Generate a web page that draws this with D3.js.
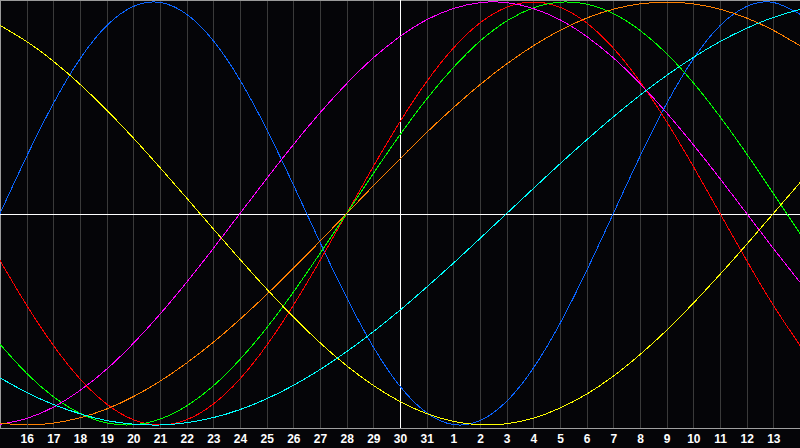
<!DOCTYPE html>
<html>
<head>
<meta charset="utf-8">
<script src="https://cdn.jsdelivr.net/npm/d3@7/dist/d3.min.js"></script>
<style>
  html, body { margin: 0; padding: 0; background: #050508; }
  svg { display: block; }
</style>
</head>
<body>
<svg id="chart" width="800" height="448"></svg>
<script>
// Days shown on the chart: index 0 = the 15th (left edge) ... index 30 = the 14th (right edge)
const days = [15,16,17,18,19,20,21,22,23,24,25,26,27,28,29,30,31,1,2,3,4,5,6,7,8,9,10,11,12,13,14];
// Tick labels (indices 1..29)
const tickLabels = ["16","17","18","19","20","21","22","23","24","25","26","27","28","29","30","31",
                    "1","2","3","4","5","6","7","8","9","10","11","12","13"];
const todayIndex = 15; // the 30th

// Cycle values per day (-1 .. 1)
const blue = [0,0.270,0.520,0.731,0.888,0.979,0.998,0.942,0.817,0.631,0.398,0.136,-0.136,-0.398,-0.631,-0.817,
              -0.942,-0.998,-0.979,-0.888,-0.731,-0.520,-0.270,0,0.270,0.520,0.731,0.888,0.979,0.998,0.942];
const red = [-0.2225,-0.434,-0.6235,-0.782,-0.901,-0.975,-1,-0.975,-0.901,-0.782,-0.6235,-0.434,-0.2225,0,
             0.2225,0.434,0.6235,0.782,0.901,0.975,1,0.975,0.901,0.782,0.6235,0.434,0.2225,0,-0.2225,-0.434,-0.6235];
const green = [-0.618,-0.756,-0.866,-0.945,-0.990,-0.999,-0.972,-0.910,-0.815,-0.690,-0.541,-0.372,-0.189,0,
               0.189,0.372,0.541,0.690,0.815,0.910,0.972,0.999,0.990,0.945,0.866,0.756,0.618,0.458,0.282,0.095,-0.095];
const magenta = [-0.997,-0.969,-0.916,-0.837,-0.736,-0.614,-0.476,-0.325,-0.165,0,0.165,0.325,0.476,0.614,0.736,
                 0.837,0.916,0.969,0.997,0.997,0.969,0.916,0.837,0.736,0.614,0.476,0.325,0.165,0,-0.165,-0.325];
const yellow = [0.889,0.813,0.720,0.611,0.489,0.357,0.217,0.073,-0.073,-0.217,-0.357,-0.489,-0.611,-0.720,-0.813,
                -0.889,-0.946,-0.983,-0.999,-0.994,-0.968,-0.920,-0.854,-0.769,-0.667,-0.552,-0.424,-0.288,-0.146,0,0.146];
const orange = [-0.991,-1,-0.991,-0.966,-0.924,-0.866,-0.793,-0.707,-0.609,-0.5,-0.383,-0.259,-0.131,0,0.131,
                0.259,0.383,0.5,0.609,0.707,0.793,0.866,0.924,0.966,0.991,1,0.991,0.966,0.924,0.866,0.793];
const cyan = [-0.777,-0.846,-0.903,-0.947,-0.979,-0.996,-1,-0.989,-0.965,-0.927,-0.876,-0.813,-0.738,-0.653,-0.559,
              -0.457,-0.348,-0.235,-0.118,0,0.118,0.235,0.348,0.457,0.559,0.653,0.738,0.813,0.876,0.927,0.965];

const seriesNames = ["physical","emotional","intellectual","intuitive","aesthetic","awareness","spiritual"];
const seriesValues = [blue, red, green, magenta, yellow, orange, cyan];
const seriesColors = ["#0a64ff","#ff0000","#00ff00","#ff00ff","#ffff00","#ff8000","#00ffff"];

const W = 800, H = 448, axisY = 428;
const svg = d3.select("#chart");

const x = d3.scaleLinear().domain([0, days.length - 1]).range([0, W]);
const y = d3.scaleLinear().domain([-1, 1]).range([425, 2]);

svg.append("rect").attr("width", W).attr("height", H).attr("fill", "#050508");

// vertical day grid
svg.append("g")
  .selectAll("line")
  .data(d3.range(1, days.length - 1))
  .join("line")
  .attr("x1", d => Math.round(x(d)) + 0.5)
  .attr("x2", d => Math.round(x(d)) + 0.5)
  .attr("y1", 0).attr("y2", axisY)
  .attr("stroke", "#3a3a3a").attr("stroke-width", 1)
  .attr("shape-rendering", "crispEdges");

// border (top / left)
svg.append("line").attr("x1", 0).attr("x2", W).attr("y1", 0.5).attr("y2", 0.5)
  .attr("stroke", "#9a9a9a").attr("shape-rendering", "crispEdges");
svg.append("line").attr("x1", 0.5).attr("x2", 0.5).attr("y1", 0).attr("y2", axisY)
  .attr("stroke", "#9a9a9a").attr("shape-rendering", "crispEdges");

// center lines
svg.append("line").attr("x1", 0).attr("x2", W)
  .attr("y1", Math.round(y(0)) + 0.5).attr("y2", Math.round(y(0)) + 0.5)
  .attr("stroke", "#ffffff").attr("shape-rendering", "crispEdges");
svg.append("line")
  .attr("x1", Math.round(x(todayIndex)) + 0.5).attr("x2", Math.round(x(todayIndex)) + 0.5)
  .attr("y1", 0).attr("y2", axisY)
  .attr("stroke", "#ffffff").attr("shape-rendering", "crispEdges");

// curves
const line = d3.line()
  .x((d, i) => x(i))
  .y(d => y(d))
  .curve(d3.curveNatural);

svg.append("g")
  .selectAll("path")
  .data(seriesValues)
  .join("path")
  .attr("d", d => line(d))
  .attr("fill", "none")
  .attr("stroke", (d, i) => seriesColors[i])
  .attr("stroke-width", 1)
  .attr("shape-rendering", "crispEdges");

// bottom axis
const axis = d3.axisBottom(x)
  .tickValues(d3.range(1, days.length - 1))
  .tickFormat((d) => tickLabels[d - 1])
  .tickSize(0)
  .tickPadding(6);

const gAxis = svg.append("g")
  .attr("transform", `translate(0,${axisY})`)
  .call(axis);
gAxis.select(".domain").attr("stroke", "#a0a0a0").attr("shape-rendering", "crispEdges")
  .attr("d", `M0,0.5H${W}`);
gAxis.selectAll("text")
  .attr("fill", "#ffffff")
  .attr("font-family", "'Liberation Sans', Arial, sans-serif")
  .attr("font-weight", "bold")
  .attr("font-size", "12px");
</script>
</body>
</html>
